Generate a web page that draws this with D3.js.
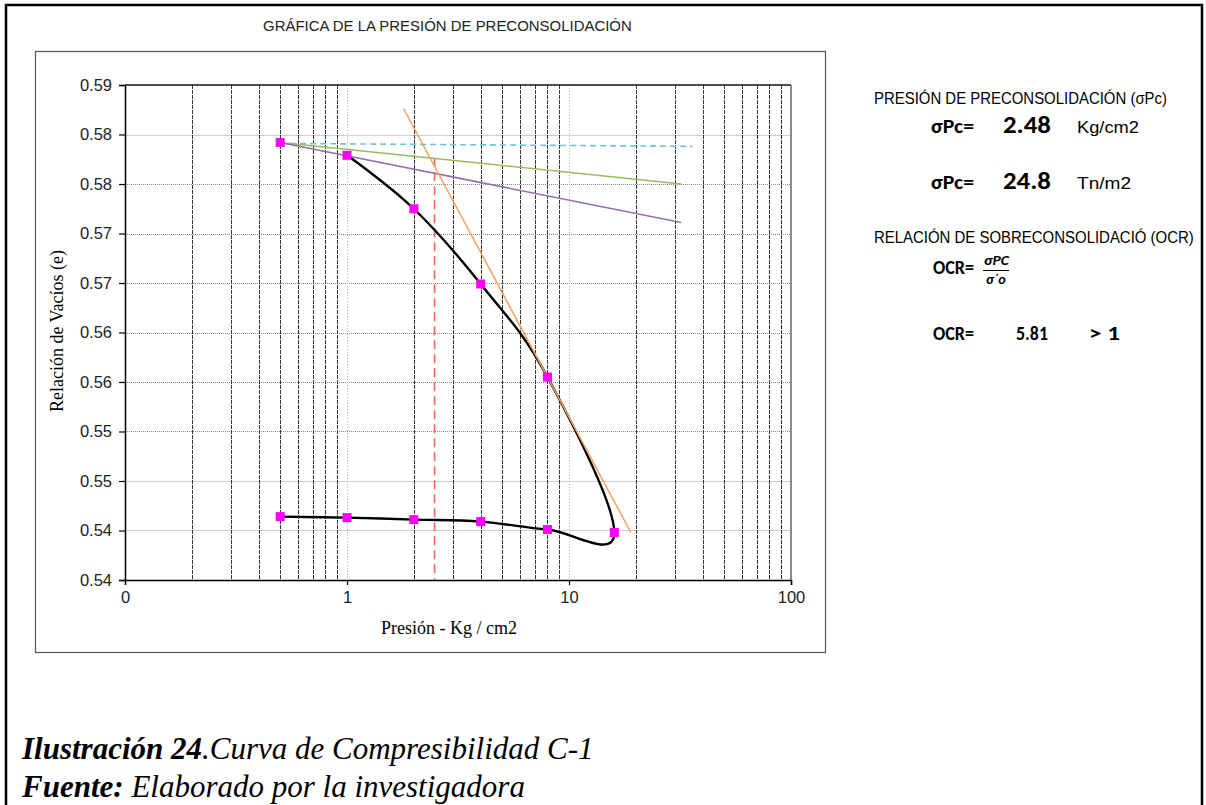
<!DOCTYPE html>
<html>
<head>
<meta charset="utf-8">
<script src="https://cdn.jsdelivr.net/npm/d3@7"></script>
<style>
  html, body { margin: 0; padding: 0; background: #fff; }
  svg { display: block; }
</style>
</head>
<body>
<div id="chart"></div>
<script>
// --- data ---
const loadP = [0.5, 1, 2, 4, 8, 16];
const loadE = [0.5842, 0.5829, 0.5775, 0.5699, 0.5605, 0.5448];
const unloadP = [8, 4, 2, 1, 0.5];
const unloadE = [0.5451, 0.5459, 0.5461, 0.5463, 0.5464];

// construction lines (Casagrande)
const horizP = [0.5, 36];
const horizE = [0.5841, 0.5838];
const bisectP = [0.5, 32];
const bisectE = [0.5842, 0.5800];
const tangentP = [0.5, 32];
const tangentE = [0.5842, 0.5761];
const virginP = [1.8, 19];
const virginE = [0.5876, 0.5448];
const sigmaPc = 2.48;
const sigmaE = [0.5826, 0.540];

const yTicks = [0.540, 0.545, 0.550, 0.555, 0.560, 0.565, 0.570, 0.575, 0.580, 0.585, 0.590];
const yTickLabels = ['0.54', '0.54', '0.55', '0.55', '0.56', '0.56', '0.57', '0.57', '0.58', '0.58', '0.59'];
const xTicks = [0.1, 1, 10, 100];
const xTickLabels = ['0', '1', '10', '100'];

const W = 1206, H = 805;
const margin = { top: 85, left: 125, right: 791, bottom: 580 };

const svg = d3.select('#chart').append('svg')
    .attr('width', W)
    .attr('height', H);

// page frame
svg.append('path')
    .attr('d', `M6,${H} V5 H1202 V${H}`)
    .attr('fill', 'none')
    .attr('stroke', '#000')
    .attr('stroke-width', 2.5);

// chart area frame
svg.append('rect')
    .attr('x', 35.5).attr('y', 51.5)
    .attr('width', 790).attr('height', 601)
    .attr('fill', 'none')
    .attr('stroke', '#555')
    .attr('stroke-width', 1.2);

const sans = '"Liberation Sans", Arial, sans-serif';
const serif = '"Liberation Serif", "Times New Roman", serif';
const bold = 'Carlito, Lato, "Open Sans", sans-serif';

// text squeezed/stretched horizontally to the width seen in the reference
function label(parent, x0, y0, s, fam, size, weight, width) {
    const t = parent.append('text')
        .attr('transform', `translate(${x0},${y0})`)
        .style('font-family', fam)
        .style('font-size', size + 'px')
        .style('font-weight', weight || 'normal')
        .text(s);
    if (width) {
        const w = t.node().getComputedTextLength();
        t.attr('transform', `translate(${x0},${y0}) scale(${width / w},1)`);
    }
    return t;
}

label(svg, 263, 31, 'GRÁFICA DE LA PRESIÓN DE PRECONSOLIDACIÓN', sans, 15, 'normal', 369).attr('fill', '#222');

const x = d3.scaleLog().domain([0.1, 100]).range([margin.left, margin.right]);
const y = d3.scaleLinear().domain([0.540, 0.590]).range([margin.bottom, margin.top]);

const plot = svg.append('g');

// horizontal grid
const solidRows = [0.585, 0.550, 0.545];
plot.selectAll('.hgrid')
    .data(yTicks.slice(1, -1))
    .enter().append('line')
    .attr('class', 'hgrid')
    .attr('x1', margin.left).attr('x2', margin.right)
    .attr('y1', d => Math.round(y(d)) + 0.5).attr('y2', d => Math.round(y(d)) + 0.5)
    .attr('stroke', d => solidRows.includes(d) ? '#cfcfcf' : '#8a8a8a')
    .attr('stroke-width', 1)
    .attr('stroke-dasharray', d => solidRows.includes(d) ? null : '1,1');

// vertical grid: dark minor lines, light dotted decades
const vTicks = x.ticks().filter(d => d > 0.1 && d < 100);
plot.selectAll('.vgrid')
    .data(vTicks)
    .enter().append('line')
    .attr('class', 'vgrid')
    .attr('x1', d => Math.round(x(d)) + 0.5).attr('x2', d => Math.round(x(d)) + 0.5)
    .attr('y1', margin.top).attr('y2', margin.bottom)
    .attr('stroke', d => xTicks.includes(d) ? '#b0b0b0' : '#333')
    .attr('stroke-width', 1)
    .attr('stroke-dasharray', d => xTicks.includes(d) ? '1,2' : '4,1');

// plot border top and right
plot.append('line')
    .attr('x1', margin.left).attr('x2', margin.right)
    .attr('y1', margin.top).attr('y2', margin.top)
    .attr('stroke', '#111').attr('stroke-width', 1.5);
plot.append('line')
    .attr('x1', margin.right).attr('x2', margin.right)
    .attr('y1', margin.top).attr('y2', margin.bottom)
    .attr('stroke', '#666').attr('stroke-width', 1.5);

// axes
const yAxis = d3.axisLeft(y)
    .tickValues(yTicks)
    .tickSize(6)
    .tickFormat((d, i) => yTickLabels[i]);
const gy = svg.append('g')
    .attr('transform', `translate(${margin.left},0)`)
    .call(yAxis);

const xAxis = d3.axisBottom(x)
    .tickValues(xTicks)
    .tickSize(5)
    .tickFormat((d, i) => xTickLabels[i]);
const gx = svg.append('g')
    .attr('transform', `translate(0,${margin.bottom})`)
    .call(xAxis);

[gx, gy].forEach(g => {
    g.attr('font-size', null).attr('font-family', null);
    g.select('.domain').attr('stroke', '#000').attr('stroke-width', 1.5);
    g.selectAll('.tick line').attr('stroke', '#000').attr('stroke-width', 1.2);
    g.selectAll('.tick text')
        .style('font-family', sans)
        .style('font-size', '16.5px')
        .attr('fill', '#222');
});
gy.selectAll('.tick text').attr('x', -13);
gx.selectAll('.tick text').attr('y', 11);

// axis titles
svg.append('text')
    .attr('transform', 'translate(63,331) rotate(-90)')
    .attr('text-anchor', 'middle')
    .style('font-family', serif)
    .style('font-size', '18px')
    .text('Relación de Vacíos (e)');
svg.append('text')
    .attr('x', 449).attr('y', 634)
    .attr('text-anchor', 'middle')
    .style('font-family', serif)
    .style('font-size', '18px')
    .text('Presión - Kg / cm2');

// series
const line = d3.line().x(d => x(d[0])).y(d => y(d[1]));
const pairs = (ps, es) => ps.map((p, i) => [p, es[i]]);

plot.append('path')
    .datum(pairs(horizP, horizE))
    .attr('d', line)
    .attr('fill', 'none')
    .attr('stroke', '#6cc3dc')
    .attr('stroke-width', 1.6)
    .attr('stroke-dasharray', '6,4');

plot.append('path')
    .datum(pairs(bisectP, bisectE))
    .attr('d', line)
    .attr('fill', 'none')
    .attr('stroke', '#9bbb59')
    .attr('stroke-width', 1.5);

plot.append('path')
    .datum(pairs(tangentP, tangentE))
    .attr('d', line)
    .attr('fill', 'none')
    .attr('stroke', '#8c73b0')
    .attr('stroke-width', 1.5);

plot.append('path')
    .datum([[sigmaPc, sigmaE[0]], [sigmaPc, sigmaE[1]]])
    .attr('d', line)
    .attr('fill', 'none')
    .attr('stroke', '#ff6060')
    .attr('stroke-width', 1.6)
    .attr('stroke-dasharray', '9,5');

// compression curve: loading from 1 kg/cm2, then unloading
const curveData = pairs(loadP, loadE).slice(1).concat(pairs(unloadP, unloadE));
plot.append('path')
    .datum(curveData)
    .attr('d', d3.line().x(d => x(d[0])).y(d => y(d[1])).curve(d3.curveCardinal.tension(-0.1)))
    .attr('fill', 'none')
    .attr('stroke', '#000')
    .attr('stroke-width', 2.4);

plot.append('path')
    .datum(pairs(virginP, virginE))
    .attr('d', line)
    .attr('fill', 'none')
    .attr('stroke', '#f5a060')
    .attr('stroke-width', 1.5);

const markers = pairs(loadP, loadE).concat(pairs(unloadP, unloadE));
plot.selectAll('.pt')
    .data(markers)
    .enter().append('rect')
    .attr('class', 'pt')
    .attr('x', d => x(d[0]) - 4.5)
    .attr('y', d => y(d[1]) - 4.5)
    .attr('width', 9).attr('height', 9)
    .attr('fill', '#ff00ff');

// results panel
const panel = svg.append('g');

label(panel, 874, 104, 'PRESIÓN DE PRECONSOLIDACIÓN (σPc)', sans, 17, 'normal', 293);
label(panel, 931, 133, 'σPc=', bold, 20, 'bold', 43);
label(panel, 1003, 133, '2.48', bold, 24, 'bold', 48);
label(panel, 1077, 133, 'Kg/cm2', sans, 16.5, 'normal', 62);
label(panel, 931, 189, 'σPc=', bold, 20, 'bold', 43);
label(panel, 1003, 189, '24.8', bold, 24, 'bold', 48);
label(panel, 1077, 189, 'Tn/m2', sans, 16.5, 'normal', 54);
label(panel, 874, 243, 'RELACIÓN DE SOBRECONSOLIDACIÓ (OCR)', sans, 17, 'normal', 320);
label(panel, 933, 274, 'OCR=', bold, 20.5, 'bold', 41);
label(panel, 984, 265, 'σPC', bold, 13, 'bold', 25).style('font-style', 'italic');
panel.append('line')
    .attr('x1', 983).attr('x2', 1009)
    .attr('y1', 270.5).attr('y2', 270.5)
    .attr('stroke', '#000').attr('stroke-width', 1);
label(panel, 986, 284, 'σ´o', bold, 13, 'bold', 20).style('font-style', 'italic');
label(panel, 933, 340, 'OCR=', bold, 20.5, 'bold', 41);
label(panel, 1016, 340, '5.81', bold, 20.5, 'bold', 32);
label(panel, 1089, 340, '>  1', bold, 20.5, 'bold', 31);

// caption
const cap1 = svg.append('text')
    .attr('x', 22).attr('y', 759)
    .style('font-family', serif)
    .style('font-size', '31px')
    .style('font-style', 'italic');
cap1.append('tspan').style('font-weight', 'bold').text('Ilustración 24');
cap1.append('tspan').text('.Curva de Compresibilidad C-1');

const cap2 = svg.append('text')
    .attr('x', 22).attr('y', 797)
    .style('font-family', serif)
    .style('font-size', '31px')
    .style('font-style', 'italic');
cap2.append('tspan').style('font-weight', 'bold').text('Fuente:');
cap2.append('tspan').text(' Elaborado por la investigadora');
</script>
</body>
</html>
